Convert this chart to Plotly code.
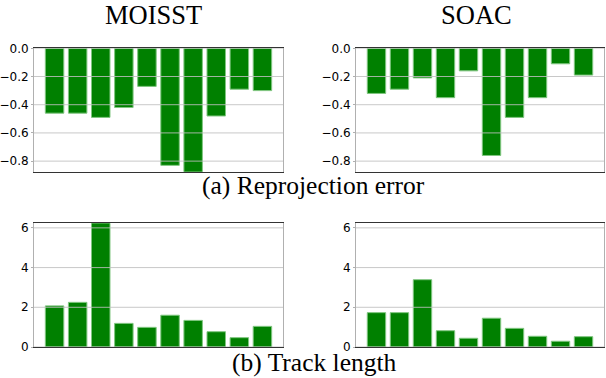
import plotly.graph_objects as go

idx = list(range(10))
moisst_reproj = [-0.46, -0.46, -0.49, -0.42, -0.27, -0.83, -0.95, -0.48, -0.29, -0.30]
soac_reproj = [-0.32, -0.29, -0.21, -0.35, -0.16, -0.76, -0.49, -0.35, -0.11, -0.19]
moisst_track = [2.07, 2.25, 6.6, 1.19, 0.99, 1.60, 1.34, 0.77, 0.47, 1.04]
soac_track = [1.73, 1.73, 3.39, 0.82, 0.44, 1.45, 0.94, 0.54, 0.29, 0.52]

reproj_ticks = [0.0, -0.2, -0.4, -0.6, -0.8]
reproj_ticktext = ["0.0", "\u22120.2", "\u22120.4", "\u22120.6", "\u22120.8"]
track_ticks = [0, 2, 4, 6]
track_ticktext = ["0", "2", "4", "6"]

titles = ["MOISST", "SOAC"]
captions = ["(a) Reprojection error", "(b) Track length"]

W, H = 606, 378
bar_color = "#008000"
edge_color = "#80c680"
grid_color = "rgba(190,190,190,0.85)"


def px(x):
    return x / W


def py(y):
    return 1 - y / H


# panel pixel boxes in page coords (left, right, top, bottom)
boxes = {
    "1": (34, 283, 48.3, 171.7),
    "2": (356, 604, 48.3, 171.7),
    "3": (34, 283, 223.3, 347),
    "4": (356, 604, 223.3, 347),
}

fig = go.Figure()
series = [("1", moisst_reproj), ("2", soac_reproj), ("3", moisst_track), ("4", soac_track)]
for k, vals in series:
    fig.add_trace(go.Bar(
        x=idx, y=vals, width=0.8,
        marker=dict(color=bar_color, line=dict(color=edge_color, width=1)),
        xaxis="x" + ("" if k == "1" else k), yaxis="y" + ("" if k == "1" else k),
        showlegend=False, hoverinfo="skip",
    ))

layout = dict(
    width=W, height=H, margin=dict(l=0, r=0, t=0, b=0, autoexpand=False),
    paper_bgcolor="white", plot_bgcolor="white", bargap=0,
    font=dict(family="DejaVu Sans", size=12, color="black"),
)
shapes = []
for k, (l, r, t, b) in boxes.items():
    xa = "xaxis" + ("" if k == "1" else k)
    ya = "yaxis" + ("" if k == "1" else k)
    top = k in ("1", "2")
    layout[xa] = dict(
        domain=[px(l), px(r)], range=[-0.89, 9.89], showticklabels=False,
        showgrid=False, zeroline=False, showline=True, mirror=True,
        linecolor="#333333", linewidth=1, ticks="", automargin=False,
        anchor="y" + ("" if k == "1" else k), fixedrange=True,
    )
    layout[ya] = dict(
        domain=[py(b), py(t)],
        range=[-0.875, 0.0] if top else [0, 6.23],
        tickvals=reproj_ticks if top else track_ticks,
        ticktext=reproj_ticktext if top else track_ticktext,
        showgrid=False, zeroline=False, showline=True, mirror=True,
        linecolor="#b0b0b0", linewidth=1,
        ticks="outside", ticklen=2, tickcolor="#b0b0b0", tickwidth=1,
        automargin=False,
        tickfont=dict(family="DejaVu Sans", size=12, color="black"),
        anchor="x" + ("" if k == "1" else k), fixedrange=True,
    )
    xref = "x" + ("" if k == "1" else k) + " domain"
    yref = "y" + ("" if k == "1" else k)
    for tv in (reproj_ticks if top else track_ticks):
        shapes.append(dict(type="line", xref=xref, yref=yref, x0=0, x1=1, y0=tv, y1=tv,
                           line=dict(color=grid_color, width=1), layer="above"))
layout["shapes"] = shapes


def ann(text, x, y, size):
    return dict(text=text, x=px(x), y=py(y), xref="paper", yref="paper",
                xanchor="center", yanchor="middle", showarrow=False,
                font=dict(family="Liberation Serif", size=size, color="black"))


layout["annotations"] = [
    ann(titles[0], 153, 15, 26.5),
    ann(titles[1], 476, 15, 26.5),
    ann(captions[0], 313, 185, 25.5),
    ann(captions[1], 314, 362, 25.5),
]
fig.update_layout(**layout)
fig.write_html(
    "out.html",
    config={"displayModeBar": False, "staticPlot": True},
    post_script="document.body.style.margin='0';document.body.style.overflow='hidden';",
)
